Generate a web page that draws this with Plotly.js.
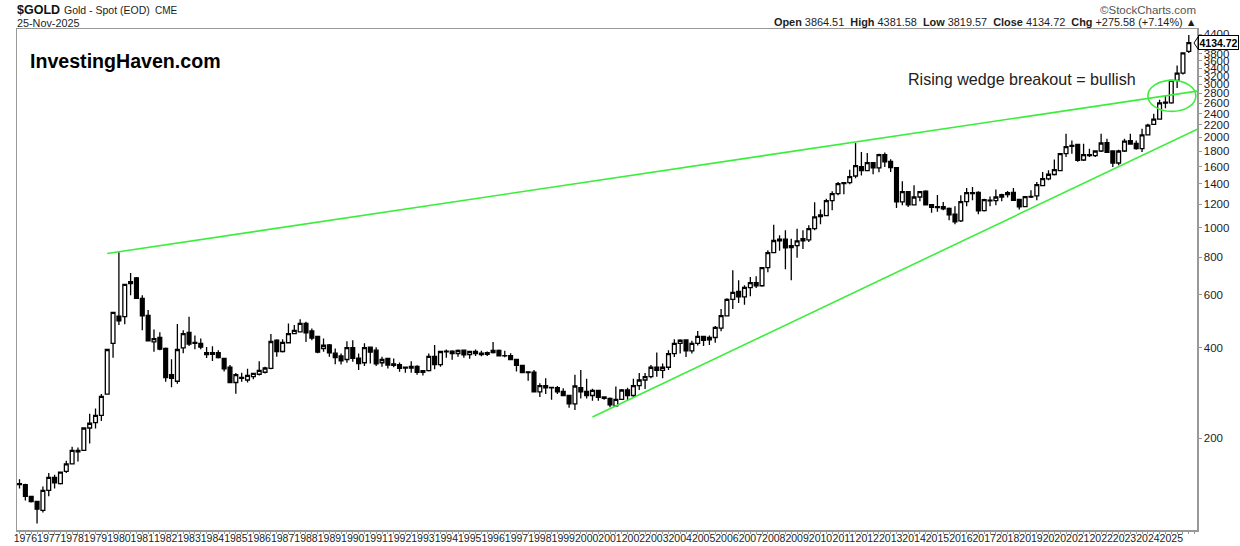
<!DOCTYPE html>
<html><head><meta charset="utf-8">
<script src="https://cdn.plot.ly/plotly-3.0.1.min.js"></script>
<style>html,body{margin:0;padding:0;background:#fff}#c{width:1240px;height:546px}</style>
</head><body><div id="c"></div>
<script>
const opens=[141,140,128,123,115,134,148,141,155,164,182,182,216,225,238,280,413,509,507,653,682,583,512,418,432,397,325,309,399,449,416,413,385,380,385,368,344,306,318,312,320,326,331,341,423,388,415,445,451,481,
454,436,397,408,383,375,365,400,369,356,401,392,356,368,353,351,344,342,346,335,335,374,351,389,389,382,392,379,388,383,380,385,391,376,376,365,349,332,331,285,299,295,294,286,277,260,294,286,277,288,274,271,256,
269,289,277,299,312,320,344,336,344,382,413,424,390,413,436,424,432,464,510,578,615,590,633,658,642,738,828,917,917,860,873,905,912,994,1091,1099,1232,1300,1414,1414,1488,1598,1551,1648,1583,1753,1665,
1587,1220,1320,1192,1267,1324,1195,1177,1177,1160,1110,1055,1223,1310,1313,1142,1236,1232,1267,1290,1313,1245,1177,1273,1277,1382,1455,1505,1550,1766,1882,1896,1682,1739,1739,1802,1921,1802,1644,1802,1949,1911,1834,2040,2210,2300,2620,2607,3094,3272,3864.51];
const highs=[146,141,128,123,138,153,151,154,168,187,186,217,241,251,280,394,524,830,652,708,686,597,533,459,450,400,366,479,457,506,439,429,402,404,392,368,350,329,330,340,330,360,345,444,426,426,481,475,497,487,
463,436,429,411,397,382,420,423,382,413,401,401,373,368,368,357,344,360,349,336,382,408,389,394,392,394,394,388,394,390,388,417,394,390,383,365,349,332,337,304,316,296,298,293,277,325,337,315,292,288,274,273,297,
291,294,315,329,329,350,385,354,392,426,426,426,421,454,438,439,472,537,584,723,670,645,687,691,738,843,1025,945,982,921,994,982,1020,1217,1151,1250,1324,1421,1421,1562,1916,1788,1776,1657,1766,1780,1691,
1587,1428,1327,1385,1320,1334,1195,1287,1220,1168,1180,1283,1358,1368,1324,1251,1273,1341,1300,1327,1358,1251,1270,1334,1421,1535,1554,1688,1766,2056,1954,1906,1906,1834,1811,2056,1981,1802,1820,1981,2056,1954,2138,2221,2396,2666,2767,3094,3470,3822,4381.58];
const lows=[136,124,122,104,113,128,136,140,153,164,167,182,192,215,228,279,370,475,478,597,581,457,421,387,392,308,295,303,383,405,395,395,369,361,368,333,306,281,308,306,314,323,328,339,373,385,413,443,449,417,
423,383,387,373,352,351,356,359,337,347,354,347,345,341,344,332,330,330,325,323,333,339,345,370,364,373,370,367,375,374,375,382,375,371,364,333,330,310,285,274,280,268,280,276,252,248,271,271,266,266,268,253,254,
269,267,274,289,291,316,320,316,337,372,382,372,382,406,405,408,415,453,510,537,563,555,593,631,637,712,828,839,729,670,795,850,898,982,1028,1094,1145,1284,1294,1396,1462,1495,1551,1508,1530,1595,1534,
1165,1189,1174,1192,1226,1189,1122,1131,1145,1060,1028,1047,1180,1236,1110,1134,1180,1189,1226,1261,1230,1151,1174,1258,1236,1375,1440,1495,1546,1721,1766,1660,1669,1721,1721,1788,1784,1595,1615,1788,1896,1820,1788,2030,2204,2290,2500,2587,2917,3239,3819.57];
const closes=[140,128,123,116,134,148,142,154,164,182,180,216,224,238,275,394,524,491,649,663,583,510,421,428,395,318,316,394,445,411,413,401,379,385,370,340,306,325,316,323,328,336,342,419,388,416,445,456,481,448,
430,386,407,384,370,361,400,368,354,400,386,353,365,350,349,341,342,346,331,331,374,351,388,387,382,391,378,388,382,379,385,391,375,375,365,349,330,330,285,299,294,294,285,277,260,298,285,277,288,273,271,258,269,
289,277,299,312,320,344,336,344,382,413,423,390,413,436,423,432,467,511,578,610,590,634,658,642,738,828,908,905,858,873,905,921,994,1088,1105,1232,1300,1403,1403,1481,1610,1551,1648,1583,1753,1657,1587,
1220,1320,1192,1267,1320,1192,1171,1168,1157,1105,1047,1223,1310,1300,1139,1242,1230,1267,1290,1310,1236,1174,1270,1267,1392,1459,1508,1562,1766,1863,1868,1678,1753,1753,1802,1916,1784,1644,1802,1944,1901,1834,2040,2197,2300,2607,2600,3094,3272,3822,4134.72];
const tickYears=[1976,1977,1978,1979,1980,1981,1982,1983,1984,1985,1986,1987,1988,1989,1990,1991,1992,1993,1994,1995,1996,1997,1998,1999,2000,2001,2002,2003,2004,2005,2006,2007,2008,2009,2010,2011,2012,2013,2014,2015,2016,2017,2018,2019,2020,2021,2022,2023,2024,2025];
const priceTicks=[200,400,600,800,1000,1200,1400,1600,1800,2000,2200,2400,2600,2800,3000,3200,3400,3600,3800,4400];
const upperX=[15,202.2], upperY=[822,2866];
const lowerX=[98,202], lowerY=[235,2154];

const xs=closes.map((_,i)=>i);
const W=1240,H=546,L=17,R=1197,T=28.5,B=530;
const GREEN='#3cee3c', INK='#1c1c1c', FONT='"Liberation Sans", Arial, sans-serif';
const px=x=>(x-L)/(R-L), py=y=>1-(y-T)/(B-T);
function note(text,x,y,size,extra){
  return Object.assign({text,xref:'paper',yref:'paper',x:px(x),y:py(y),xanchor:'left',yanchor:'middle',showarrow:false,
    font:{family:FONT,size,color:INK}},extra||{});
}
const traces=[
 {type:'candlestick',x:xs,open:opens,high:highs,low:lows,close:closes,whiskerwidth:0,
  increasing:{line:{color:'#000',width:1.3},fillcolor:'#fff'},
  decreasing:{line:{color:'#000',width:1.3},fillcolor:'#000'},showlegend:false,hoverinfo:'skip'},
 {type:'scatter',mode:'lines',x:upperX,y:upperY,line:{color:GREEN,width:1.6},cliponaxis:false,showlegend:false,hoverinfo:'skip'},
 {type:'scatter',mode:'lines',x:lowerX,y:lowerY,line:{color:GREEN,width:1.6},cliponaxis:false,showlegend:false,hoverinfo:'skip'}
];
const layout={
 width:W,height:H,margin:{l:L,r:W-R,t:T,b:H-B,pad:0},paper_bgcolor:'#fff',plot_bgcolor:'#fff',showlegend:false,
 boxgap:0.07,
 xaxis:{type:'linear',range:[-0.43,201.4],rangeslider:{visible:false},showgrid:false,zeroline:false,
   showline:true,mirror:true,linecolor:'#999',linewidth:1.5,
   tickmode:'array',tickvals:tickYears.map(y=>(y-1976)*4+1),ticktext:tickYears.map(String),tickangle:0,
   ticks:'outside',ticklen:2,tickcolor:'#999',tickwidth:1,tickfont:{family:FONT,size:10.5,color:INK},ticklabelstandoff:-4,
   minor:{dtick:1,tick0:0,ticks:'outside',ticklen:2,tickcolor:'#999',tickwidth:1,showgrid:false}},
 yaxis:{type:'log',side:'right',range:[Math.log10(98.9),Math.log10(4587)],showgrid:false,zeroline:false,
   showline:true,mirror:true,linecolor:'#999',linewidth:1.5,
   tickmode:'array',tickvals:priceTicks,ticktext:priceTicks.map(String),
   ticks:'outside',ticklen:3,tickcolor:'#999',tickwidth:1,tickfont:{family:FONT,size:11.5,color:INK}},
 shapes:[
  {type:'circle',xref:'x',yref:'y',x0:193,x1:201.2,y0:2441,y1:3094,line:{color:GREEN,width:1.6},layer:'above'},
  {type:'path',xref:'paper',yref:'paper',path:`M ${px(1198)} ${py(36.5)} L ${px(1194)} ${py(42.5)} L ${px(1198)} ${py(48.5)} Z`,fillcolor:'#fff',line:{color:'#000',width:1}}
 ],
 annotations:[
  note('<b>$GOLD</b>',15,9,12.5,{font:{family:FONT,size:12.5,color:'#111'}}),
  note('Gold - Spot (EOD)',62,9,10.5),
  note('CME',153,10,10),
  note('25-Nov-2025',15,22.5,10.8),
  note('<b>Open</b> 3864.51  <b>High</b> 4381.58  <b>Low</b> 3819.57  <b>Close</b> 4134.72  <b>Chg</b> +275.58 (+7.14%) ▲',1199,21.5,10.9,{xanchor:'right'}),
  note('©StockCharts.com',1198,9,11.5,{xanchor:'right',font:{family:FONT,size:11.5,color:'#555'}}),
  note('<b>InvestingHaven.com</b>',28,61,19.6,{font:{family:FONT,size:19.6,color:'#000'}}),
  note('Rising wedge breakout = bullish',906,79,16.1,{font:{family:FONT,size:16.1,color:'#222'}}),
  {text:'<b>4134.72</b>',xref:'paper',yref:'paper',x:px(1198),y:py(42.5),xanchor:'left',yanchor:'middle',showarrow:false,
   font:{family:FONT,size:10.5,color:'#000'},bgcolor:'#fff',bordercolor:'#000',borderwidth:1,borderpad:0.5}
 ]
};
Plotly.newPlot('c',traces,layout,{displayModeBar:false,staticPlot:true});
</script></body></html>
